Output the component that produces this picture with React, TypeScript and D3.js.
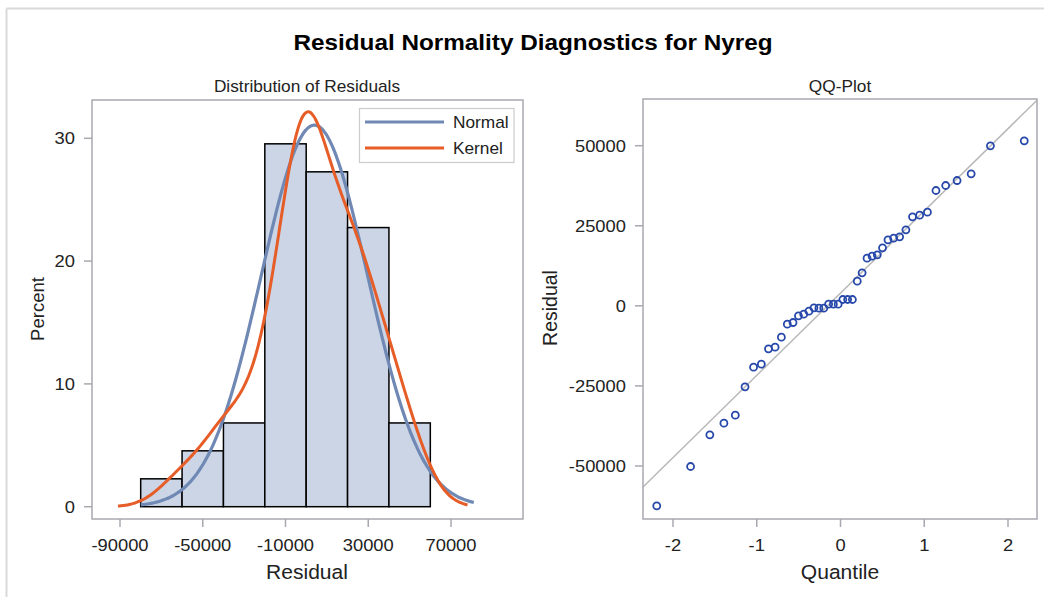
import React from 'react';
import * as d3 from 'd3';

// residuals, sorted
const residuals = [
  -62440, -50160, -40275, -36630, -34135, -25290, -19150, -18210, -13425, -12905,
  -9780, -5725, -5205, -3120, -2600, -1665, -625, -730, -730, 520,
  520, 520, 1980, 1980, 1980, 7700, 10300, 14880, 15505, 15920,
  18110, 20605, 21125, 21540, 23730, 27785, 28310, 29245, 36010, 37570,
  39130, 41210, 49955, 51515,
];
// normal quantiles (Blom) for n = 44
const quantiles = [
  -2.194, -1.790, -1.560, -1.392, -1.256, -1.140, -1.038, -0.945, -0.860, -0.781,
  -0.706, -0.635, -0.567, -0.502, -0.439, -0.377, -0.317, -0.258, -0.200, -0.142,
  -0.085, -0.028, 0.028, 0.085, 0.142, 0.200, 0.258, 0.317, 0.377, 0.439,
  0.502, 0.567, 0.635, 0.706, 0.781, 0.860, 0.945, 1.038, 1.140, 1.256,
  1.392, 1.560, 1.790, 2.194,
];
const binMids = [-70000, -50000, -30000, -10000, 10000, 30000, 50000];
const binPercent = [2.27, 4.55, 6.82, 29.55, 27.27, 22.73, 6.82];
const histXTicks = [-90000, -50000, -10000, 30000, 70000];
const histYTicks = [0, 10, 20, 30];
const qqXTicks = [-2, -1, 0, 1, 2];
const qqYTicks = [-50000, -25000, 0, 25000, 50000];
const normalRange = [-80000, 81000];
const kernelRange = [-91000, 78000];
const binWidth = 20000;
const bandwidth = 10800;

const font = '"Liberation Sans", Arial, sans-serif';
const frameColor = '#a8a8b0';
const textColor = '#222';
const stretch = 1.08;

// horizontal text, slightly widened like the SAS output
const T = ({ x, y, size, anchor = 'middle', bold = false, children }: any) => (
  <text transform={`translate(${x},${y}) scale(${stretch},1)`} textAnchor={anchor}
    fontSize={size} fontWeight={bold ? 'bold' : 'normal'} fill={bold ? '#000' : textColor}>
    {children}
  </text>
);

export default function App() {
  const mu = d3.mean(residuals) as number;
  const sd = d3.deviation(residuals) as number;

  // left panel
  const hx = d3.scaleLinear().domain([-90000, 70000]).range([120, 451]);
  const hy = d3.scaleLinear().domain([0, 30]).range([506.7, 138.3]);
  const hFrame = { x0: 92, x1: 523, y0: 100, y1: 519 };

  const pct = (d: number) => 100 * binWidth * d;
  const normalPts = d3.range(0, 201).map(i => {
    const x = normalRange[0] + (normalRange[1] - normalRange[0]) * i / 200;
    const z = (x - mu) / sd;
    return [x, pct(Math.exp(-z * z / 2) / (sd * Math.sqrt(2 * Math.PI)))];
  });
  const kernelPts = d3.range(0, 201).map(i => {
    const x = kernelRange[0] + (kernelRange[1] - kernelRange[0]) * i / 200;
    const dens = d3.mean(residuals, r => {
      const z = (x - r) / bandwidth;
      return Math.exp(-z * z / 2) / (bandwidth * Math.sqrt(2 * Math.PI));
    }) as number;
    return [x, pct(dens)];
  });
  const curve = d3.line<number[]>().x(d => hx(d[0])).y(d => hy(d[1])).curve(d3.curveBasis);

  // right panel
  const qx = d3.scaleLinear().domain([-2, 2]).range([673, 1008]);
  const qy = d3.scaleLinear().domain([-50000, 50000]).range([466, 145.7]);
  const qFrame = { x0: 643, x1: 1037, y0: 99, y1: 519 };
  const qLo = qx.invert(qFrame.x0), qHi = qx.invert(qFrame.x1);

  return (
    <svg width={1044} height={597} style={{ position: 'absolute', left: 0, top: 0 }} fontFamily={font}>
      <defs>
        <clipPath id="qclip">
          <rect x={qFrame.x0} y={qFrame.y0} width={qFrame.x1 - qFrame.x0} height={qFrame.y1 - qFrame.y0} />
        </clipPath>
      </defs>
      <rect width={1044} height={597} fill="#fff" />
      <line x1={6.5} x2={1044} y1={8.5} y2={8.5} stroke="#d9d9d9" strokeWidth={2} />
      <line x1={6.5} x2={6.5} y1={8.5} y2={597} stroke="#d9d9d9" strokeWidth={2} />

      <T x={533} y={50} size={22.5} bold>Residual Normality Diagnostics for Nyreg</T>

      {/* Distribution of residuals */}
      <T x={307} y={92} size={16}>Distribution of Residuals</T>
      {binMids.map((m, i) => (
        <rect key={i} x={hx(m - binWidth / 2)} y={hy(binPercent[i])}
          width={hx(m + binWidth / 2) - hx(m - binWidth / 2)} height={hy(0) - hy(binPercent[i])}
          fill="#cbd5e6" stroke="#000" strokeWidth={1.5} />
      ))}
      <path d={curve(normalPts) as string} fill="none" stroke="#6f88b4" strokeWidth={3.2} />
      <path d={curve(kernelPts) as string} fill="none" stroke="#e65d28" strokeWidth={3} />
      <rect x={hFrame.x0} y={hFrame.y0} width={hFrame.x1 - hFrame.x0} height={hFrame.y1 - hFrame.y0}
        fill="none" stroke={frameColor} strokeWidth={1.5} />
      {histYTicks.map(t => (
        <g key={t}>
          <line x1={hFrame.x0 - 8} x2={hFrame.x0} y1={hy(t)} y2={hy(t)} stroke={frameColor} strokeWidth={1.5} />
          <T x={hFrame.x0 - 17} y={hy(t) + 6} size={17} anchor="end">{t}</T>
        </g>
      ))}
      {histXTicks.map(t => (
        <g key={t}>
          <line x1={hx(t)} x2={hx(t)} y1={hFrame.y1} y2={hFrame.y1 + 8} stroke={frameColor} strokeWidth={1.5} />
          <T x={hx(t)} y={551} size={17}>{t}</T>
        </g>
      ))}
      <T x={307} y={579} size={19.5}>Residual</T>
      <text transform="translate(44,309) rotate(-90)" textAnchor="middle" fontSize={18.5} fill={textColor}>Percent</text>

      {/* legend */}
      <rect x={359.5} y={108.5} width={154.5} height={54} fill="#fff" stroke="#cccccc" strokeWidth={1.2} />
      <line x1={365} x2={444} y1={122} y2={122} stroke="#6f88b4" strokeWidth={3.2} />
      <line x1={365} x2={444} y1={148} y2={148} stroke="#e65d28" strokeWidth={3} />
      <T x={453} y={128} size={16} anchor="start">Normal</T>
      <T x={453} y={154} size={16} anchor="start">Kernel</T>

      {/* QQ plot */}
      <T x={840} y={92} size={16}>QQ-Plot</T>
      <line x1={qx(qLo)} x2={qx(qHi)} y1={qy(mu + sd * qLo)} y2={qy(mu + sd * qHi)}
        stroke="#b8b8b8" strokeWidth={1.5} clipPath="url(#qclip)" />
      {residuals.map((r, i) => (
        <circle key={i} cx={qx(quantiles[i])} cy={qy(r)} r={3.5} fill="none" stroke="#2748aa" strokeWidth={1.8} />
      ))}
      <rect x={qFrame.x0} y={qFrame.y0} width={qFrame.x1 - qFrame.x0} height={qFrame.y1 - qFrame.y0}
        fill="none" stroke={frameColor} strokeWidth={1.5} />
      {qqYTicks.map(t => (
        <g key={t}>
          <line x1={qFrame.x0 - 8} x2={qFrame.x0} y1={qy(t)} y2={qy(t)} stroke={frameColor} strokeWidth={1.5} />
          <T x={qFrame.x0 - 17} y={qy(t) + 6} size={17} anchor="end">{t}</T>
        </g>
      ))}
      {qqXTicks.map(t => (
        <g key={t}>
          <line x1={qx(t)} x2={qx(t)} y1={qFrame.y1} y2={qFrame.y1 + 8} stroke={frameColor} strokeWidth={1.5} />
          <T x={qx(t)} y={551} size={17}>{t}</T>
        </g>
      ))}
      <T x={840} y={579} size={19.5}>Quantile</T>
      <text transform="translate(557,308) rotate(-90)" textAnchor="middle" fontSize={19.5} fill={textColor}>Residual</text>
    </svg>
  );
}
